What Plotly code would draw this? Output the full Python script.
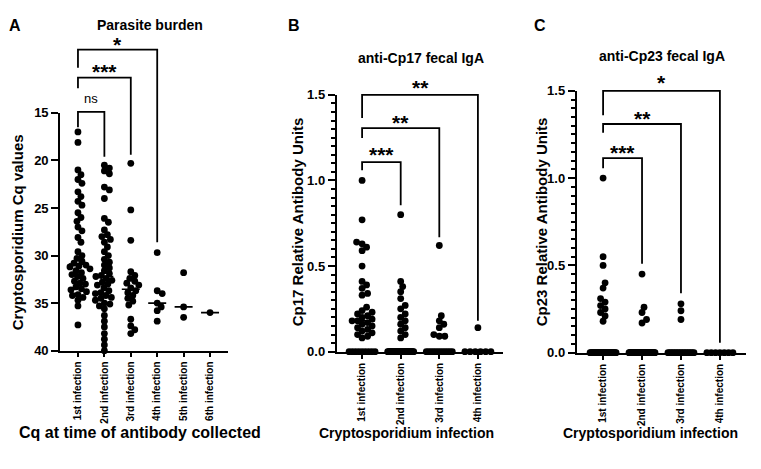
import numpy as np
import plotly.graph_objects as go

W, H = 761, 469

# ---------------- data ----------------
cats_a = ["1st infection", "2nd infection", "3rd infection", "4th infection", "5th infection", "6th infection"]
cats_bc = ["1st infection", "2nd infection", "3rd infection", "4th infection"]

cq_1st = [17.0, 18.1, 21.0, 21.5, 22.0, 22.4, 23.3, 23.8, 24.3, 24.7, 25.5, 26.0, 26.4, 27.0, 27.4,
          28.1, 28.6, 29.6, 30.0, 30.3, 30.6, 30.8, 31.0, 31.1, 31.2, 31.4, 31.6, 31.8, 32.0, 32.2,
          32.4, 32.7, 32.9, 33.0, 33.3, 33.5, 33.6, 33.8, 34.1, 34.2, 34.4, 34.7, 35.3, 37.3]
cq_2nd = [20.5, 20.8, 21.1, 21.4, 22.8, 23.1, 24.0, 26.1, 26.5, 27.3, 27.8, 28.0, 28.3, 28.6, 29.1,
          29.6, 30.0, 30.4, 30.7, 31.0, 31.3, 31.6, 31.9, 32.1, 32.2, 32.4, 32.6, 32.8, 33.0, 33.1,
          33.4, 33.7, 33.9, 34.0, 34.2, 34.4, 34.5, 34.7, 35.0, 35.1, 35.3, 35.6, 36.3, 36.9, 37.5,
          38.2, 38.8, 39.4, 40.0]
cq_3rd = [20.3, 25.2, 28.4, 31.7, 32.1, 32.4, 32.7, 32.9, 33.1, 33.4, 33.7, 33.9, 34.2, 34.5, 34.8,
          35.2, 36.7, 37.4, 37.8, 38.2]
cq_4th = [29.7, 33.7, 34.0, 35.0, 35.4, 35.8, 36.9]
cq_5th = [31.8, 35.4, 36.5]
cq_6th = [36.0]

cp17_1st = [1.0, 0.77, 0.64, 0.63, 0.61, 0.59, 0.50, 0.41, 0.39, 0.37, 0.34, 0.33, 0.26, 0.24, 0.23,
            0.22, 0.21, 0.20, 0.19, 0.18, 0.18, 0.17, 0.16, 0.15, 0.14, 0.13, 0.12, 0.11, 0.10, 0.09,
            0.08, 0, 0, 0, 0, 0, 0, 0, 0, 0]
cp17_2nd = [0.80, 0.41, 0.38, 0.35, 0.31, 0.27, 0.25, 0.22, 0.20, 0.18, 0.16, 0.14, 0.12, 0.10, 0.08,
            0, 0, 0, 0, 0, 0, 0, 0, 0, 0, 0, 0, 0, 0, 0, 0, 0, 0, 0, 0, 0, 0, 0, 0, 0, 0, 0, 0, 0, 0]
cp17_3rd = [0.62, 0.21, 0.18, 0.16, 0.14, 0.10, 0.09, 0.09, 0, 0, 0, 0, 0, 0, 0, 0, 0, 0, 0, 0]
cp17_4th = [0.14, 0, 0, 0, 0, 0, 0]

cp23_1st = [1.0, 0.55, 0.50, 0.40, 0.37, 0.31, 0.29, 0.27, 0.25, 0.23, 0.21, 0.18,
            0, 0, 0, 0, 0, 0, 0, 0, 0, 0, 0, 0, 0, 0, 0, 0, 0, 0, 0, 0, 0, 0, 0, 0, 0, 0, 0, 0, 0, 0]
cp23_2nd = [0.45, 0.26, 0.23, 0.19, 0.17, 0, 0, 0, 0, 0, 0, 0, 0, 0, 0, 0, 0, 0, 0, 0, 0, 0, 0, 0, 0,
            0, 0, 0, 0, 0, 0, 0, 0, 0, 0, 0, 0, 0, 0, 0, 0, 0, 0, 0, 0]
cp23_3rd = [0.28, 0.24, 0.19, 0, 0, 0, 0, 0, 0, 0, 0, 0, 0, 0, 0, 0, 0, 0, 0, 0]
cp23_4th = [0, 0, 0, 0, 0, 0, 0]

# significance brackets: (from, to, text)
sig_a = [(0, 3, "*"), (0, 2, "***"), (0, 1, "ns")]
sig_b = [(0, 3, "**"), (0, 2, "**"), (0, 1, "***")]
sig_c = [(0, 3, "*"), (0, 2, "**"), (0, 1, "***")]

# ---------------- layout geometry ----------------
FONT = "Liberation Sans, Arial, sans-serif"

# target pixel positions (as seen in the picture) -> figure pixels
X_SHIFT = 8.0
Y_OFF, Y_SCALE = 15.4, 0.965


def sx(px):
    return px - X_SHIFT


def sy(py):
    return (py - Y_OFF) / Y_SCALE


def fx(px):
    return sx(px) / W


def fy(py):
    return 1 - sy(py) / H


panels = {
    "A": dict(xl=60, xr=228, yb=350, yt=113, vb=40.0, vt=15.0, pad=0.68, n=6, xa="x", yd="y", yo="y2"),
    "B": dict(xl=337, xr=503, yb=351, yt=95, vb=0.0, vt=1.5, pad=0.65, n=4, xa="x2", yd="y3", yo="y4"),
    "C": dict(xl=577, xr=746, yb=352, yt=91, vb=0.0, vt=1.5, pad=0.67, n=4, xa="x3", yd="y5", yo="y6"),
}
for p in panels.values():
    p["ppu"] = (p["yb"] - p["yt"]) / abs(p["vt"] - p["vb"])
    p["ppc"] = (p["xr"] - p["xl"]) / (p["n"] - 1 + 2 * p["pad"])
    sign = 1 if p["vt"] > p["vb"] else -1
    ppu_fig = (sy(p["yb"]) - sy(p["yt"])) / abs(p["vt"] - p["vb"])
    p["otop"] = p["vb"] + sign * sy(p["yb"]) / ppu_fig

# bracket geometry in value units: (bar level, left leg end, right leg end, label level)
brk_a = [(8.35, 10.25, 28.6, 7.3), (11.3, 12.4, 19.4, 10.15), (14.9, 16.5, 19.6, 13.5)]
brk_b = [(1.5, 1.365, 0.18, 1.57), (1.306, 1.248, 0.668, 1.37), (1.107, 1.06, 0.855, 1.178)]
brk_c = [(1.5, 1.36, 0.057, 1.575), (1.31, 1.26, 0.34, 1.37), (1.115, 1.057, 0.51, 1.178)]


def swarm(vals, ppu, ppc, diam=6.8, half=13.0):
    vals = np.asarray(vals, float)
    ys = vals * ppu
    off = np.zeros(len(vals))
    placed = []
    zi = np.where(vals == 0)[0]
    if len(zi) > 1:
        h = min(half, (len(zi) - 1) * diam / 2)
        pos = np.linspace(-h, h, len(zi))
        off[zi] = pos
        placed += list(zip(pos, ys[zi]))
        rest = [i for i in np.argsort(vals, kind="stable") if vals[i] != 0]
    else:
        rest = list(np.argsort(vals, kind="stable"))
    thr = (diam * 0.8) ** 2
    for i in rest:
        y = ys[i]
        best = 0.0
        found = False
        for step in range(0, 60):
            for sgn in ([1] if step == 0 else [1, -1]):
                x = sgn * step * 0.5
                if all((x - a) ** 2 + (y - b) ** 2 >= thr for a, b in placed):
                    best = x
                    found = True
                    break
            if found:
                break
        best = max(-half, min(half, best))
        off[i] = best
        placed.append((best, y))
    return off / ppc


fig = go.Figure()


def add_panel(key, groups, brks, sigs, med_half_px):
    p = panels[key]
    for ci, vals in enumerate(groups):
        offs = swarm(vals, p["ppu"], p["ppc"])
        fig.add_trace(go.Scatter(
            x=ci + offs, y=vals, mode="markers", xaxis=p["xa"], yaxis=p["yd"],
            marker=dict(size=6.8, color="black", line=dict(width=0)),
            cliponaxis=False, showlegend=False, hoverinfo="skip"))
        m = float(np.median(vals))
        h = med_half_px / p["ppc"]
        fig.add_trace(go.Scatter(
            x=[ci - h, ci + h], y=[m, m], mode="lines", xaxis=p["xa"], yaxis=p["yd"],
            line=dict(color="black", width=1.6), showlegend=False, hoverinfo="skip"))
    for (a, b, txt), (lvl, le, re, lab) in zip(sigs, brks):
        fig.add_trace(go.Scatter(
            x=[a, a, b, b], y=[le, lvl, lvl, re], mode="lines", xaxis=p["xa"], yaxis=p["yo"],
            line=dict(color="black", width=1.8), showlegend=False, hoverinfo="skip"))
        star = txt != "ns"
        fig.add_annotation(
            x=(a + b) / 2, y=lab, xref=p["xa"], yref=p["yo"], text=txt, showarrow=False,
            yanchor="middle", yshift=-5 if star else 0,
            font=dict(family=FONT, size=21 if star else 13, color="black",
                      weight="bold" if star else "normal"))


add_panel("A", [cq_1st, cq_2nd, cq_3rd, cq_4th, cq_5th, cq_6th], brk_a, sig_a, 9)
add_panel("B", [cp17_1st, cp17_2nd, cp17_3rd, cp17_4th], brk_b, sig_b, 13)
add_panel("C", [cp23_1st, cp23_2nd, cp23_3rd, cp23_4th], brk_c, sig_c, 13)

tickfont = dict(family=FONT, size=13, color="black", weight="bold")
xtickfont = dict(family=FONT, size=10, color="black", weight="bold")

layout = dict(width=W, height=H, margin=dict(l=0, r=0, t=0, b=0),
              paper_bgcolor="white", plot_bgcolor="rgba(0,0,0,0)")

axis_names = {"x": "xaxis", "x2": "xaxis2", "x3": "xaxis3",
              "y": "yaxis", "y2": "yaxis2", "y3": "yaxis3", "y4": "yaxis4", "y5": "yaxis5", "y6": "yaxis6"}

for key, p in panels.items():
    cats = cats_a if key == "A" else cats_bc
    lw = 1.6 if key == "A" else 2.4
    layout[axis_names[p["xa"]]] = dict(
        domain=[fx(p["xl"]), fx(p["xr"])], anchor=p["yd"],
        range=[-p["pad"], p["n"] - 1 + p["pad"]],
        tickmode="array", tickvals=list(range(p["n"])), ticktext=cats, tickangle=-90,
        ticks="outside", ticklen=5, tickwidth=1.5, tickcolor="black",
        showline=True, linecolor="black", linewidth=lw, layer="below traces",
        showgrid=False, zeroline=False, tickfont=xtickfont, fixedrange=True)
    if key == "A":
        ytv = [15, 20, 25, 30, 35, 40]
        ytt = [str(v) for v in ytv]
        minor = None
    else:
        ytv = [0, 0.5, 1.0, 1.5]
        ytt = ["0.0", "0.5", "1.0", "1.5"]
        minor = dict(dtick=0.05, tick0=0, ticks="outside", ticklen=4, tickwidth=1.5, tickcolor="black")
    yd = dict(
        domain=[fy(p["yb"]), fy(p["yt"])], anchor=p["xa"], range=[p["vb"], p["vt"]],
        tickmode="array", tickvals=ytv, ticktext=ytt,
        ticks="outside", ticklen=7, tickwidth=1.6, tickcolor="black",
        showline=True, linecolor="black", linewidth=lw, layer="below traces",
        showgrid=False, zeroline=False, tickfont=tickfont, fixedrange=True)
    if minor:
        yd["minor"] = minor
    layout[axis_names[p["yd"]]] = yd
    layout[axis_names[p["yo"]]] = dict(
        domain=[fy(p["yb"]), 1.0], anchor=p["xa"], range=[p["vb"], p["otop"]],
        visible=False, showgrid=False, zeroline=False, fixedrange=True)

fig.update_layout(**layout)

texts = [
    ("A", 15, 26, 16, "bold", 0),
    ("B", 294, 26, 16, "bold", 0),
    ("C", 540, 26, 16, "bold", 0),
    ("Parasite burden", 150, 25, 14, "bold", 0),
    ("anti-Cp17 fecal IgA", 421, 58, 14, "bold", 0),
    ("anti-Cp23 fecal IgA", 662, 56, 14, "bold", 0),
    ("Cryptosporidium Cq values", 17, 232, 15, "bold", -90),
    ("Cp17 Relative Antibody Units", 297, 222, 15, "bold", -90),
    ("Cp23 Relative Antibody Units", 541, 222, 15, "bold", -90),
    ("Cq at time of antibody collected", 140, 432, 16, "bold", 0),
    ("Cryptosporidium infection", 406, 432, 14, "bold", 0),
    ("Cryptosporidium infection", 650, 432, 14, "bold", 0),
]
for t, x, y, s, wt, ang in texts:
    fig.add_annotation(x=fx(x), y=fy(y), xref="paper", yref="paper", text=t, showarrow=False,
                       xanchor="center", yanchor="middle", textangle=ang,
                       font=dict(family=FONT, size=s, color="black", weight=wt))

fig.write_html("out.html")
